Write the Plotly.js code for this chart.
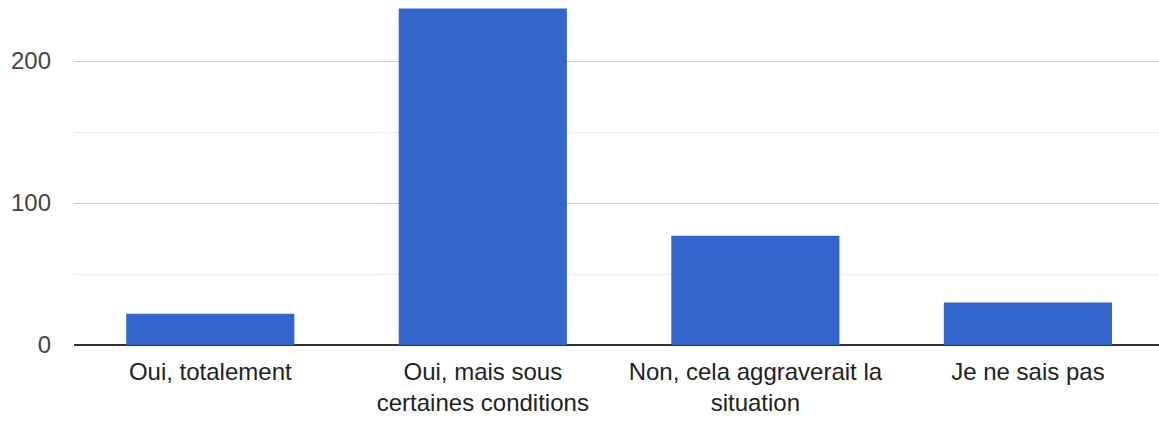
<!DOCTYPE html>
<html>
<head>
<meta charset="utf-8">
<script src="https://cdn.plot.ly/plotly-3.0.1.min.js"></script>
<style>html,body{margin:0;padding:0;background:#fff;overflow:hidden;}</style>
</head>
<body>
<div id="chart" style="width:1159px;height:421px;"></div>
<script>
const categories = ["Oui, totalement", "Oui, mais sous<br>certaines conditions", "Non, cela aggraverait la<br>situation", "Je ne sais pas"];
const values = [22, 237, 77, 30];
const yTicks = [0, 100, 200];

const trace = {
  type: 'bar',
  x: categories,
  y: values,
  marker: {color: '#3366cc'},
  hoverinfo: 'none'
};

const layout = {
  width: 1159,
  height: 421,
  margin: {l: 74, r: 0, t: 0, b: 76},
  paper_bgcolor: '#ffffff',
  plot_bgcolor: '#ffffff',
  bargap: 0.383,
  showlegend: false,
  font: {family: 'Arial, "Liberation Sans", sans-serif', size: 24, color: '#222222'},
  xaxis: {
    range: [-0.5, 3.481],
    showgrid: false,
    showline: false,
    zeroline: false,
    ticks: '',
    tickfont: {size: 24, color: '#222222'},
    ticklabelstandoff: 10,
    fixedrange: true
  },
  yaxis: {
    range: [0, 243],
    tickvals: yTicks,
    ticktext: yTicks.map(String),
    showgrid: true,
    gridcolor: '#cccccc',
    gridwidth: 1,
    minor: {dtick: 50, tick0: 0, showgrid: true, gridcolor: '#ebebeb', gridwidth: 1, ticks: ''},
    zeroline: true,
    zerolinecolor: '#333333',
    zerolinewidth: 2,
    showline: false,
    ticks: '',
    tickfont: {size: 24, color: '#444444'},
    ticklabelstandoff: 22,
    fixedrange: true
  }
};

Plotly.newPlot('chart', [trace], layout, {displayModeBar: false, staticPlot: true});
</script>
</body>
</html>
